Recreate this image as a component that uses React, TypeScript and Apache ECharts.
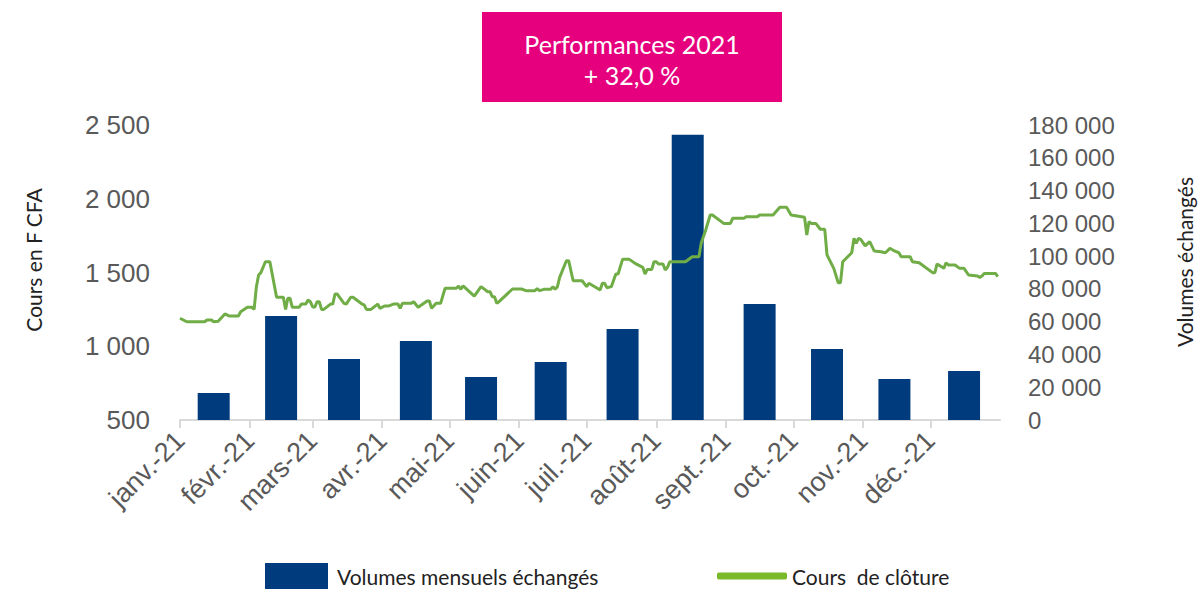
import React, { useEffect, useRef } from "react";
import * as echarts from "echarts";

const monthNames = ["janv.", "févr.", "mars", "avr.", "mai", "juin", "juil.", "août", "sept.", "oct.", "nov.", "déc."];
const axisStart = "2021-01-01";
const axisEnd = "2022-01-01";

const volumeDates = ["2021-01-16", "2021-02-15", "2021-03-15", "2021-04-16", "2021-05-15", "2021-06-15", "2021-07-17", "2021-08-15", "2021-09-16", "2021-10-16", "2021-11-15", "2021-12-16"];
const volumeValues = [16500, 63500, 37200, 48200, 26200, 35400, 55500, 174000, 70800, 43300, 25000, 29900];

const closeDates = [
  "2021-01-01", "2021-01-04", "2021-01-12", "2021-01-13", "2021-01-15", "2021-01-16", "2021-01-18", "2021-01-21", "2021-01-23", "2021-01-27",
  "2021-01-28", "2021-01-31", "2021-02-02", "2021-02-03", "2021-02-04", "2021-02-05", "2021-02-06", "2021-02-08", "2021-02-10", "2021-02-13",
  "2021-02-16", "2021-02-17", "2021-02-18", "2021-02-19", "2021-02-20", "2021-02-23", "2021-02-24", "2021-02-26", "2021-02-27", "2021-02-28",
  "2021-03-01", "2021-03-02", "2021-03-03", "2021-03-04", "2021-03-05", "2021-03-06", "2021-03-09", "2021-03-10", "2021-03-11", "2021-03-12",
  "2021-03-15", "2021-03-16", "2021-03-18", "2021-03-19", "2021-03-23", "2021-03-24", "2021-03-25", "2021-03-27", "2021-03-30", "2021-03-31",
  "2021-04-02", "2021-04-04", "2021-04-06", "2021-04-08", "2021-04-09", "2021-04-10", "2021-04-14", "2021-04-15", "2021-04-17", "2021-04-21",
  "2021-04-22", "2021-04-23", "2021-04-25", "2021-04-27", "2021-04-29", "2021-05-04", "2021-05-05", "2021-05-06", "2021-05-07", "2021-05-12",
  "2021-05-15", "2021-05-18", "2021-05-19", "2021-05-20", "2021-05-21", "2021-05-22", "2021-05-23", "2021-05-29", "2021-06-02", "2021-06-04",
  "2021-06-08", "2021-06-09", "2021-06-10", "2021-06-12", "2021-06-15", "2021-06-16", "2021-06-17", "2021-06-18", "2021-06-19", "2021-06-22",
  "2021-06-23", "2021-06-25", "2021-06-29", "2021-07-01", "2021-07-02", "2021-07-07", "2021-07-08", "2021-07-09", "2021-07-10", "2021-07-12",
  "2021-07-14", "2021-07-15", "2021-07-17", "2021-07-20", "2021-07-23", "2021-07-26", "2021-07-27", "2021-07-28", "2021-07-30", "2021-07-31",
  "2021-08-01", "2021-08-02", "2021-08-04", "2021-08-05", "2021-08-06", "2021-08-07", "2021-08-14", "2021-08-17", "2021-08-20", "2021-08-21",
  "2021-08-23", "2021-08-25", "2021-08-26", "2021-08-31", "2021-09-03", "2021-09-04", "2021-09-09", "2021-09-10", "2021-09-15", "2021-09-16",
  "2021-09-22", "2021-09-25", "2021-09-28", "2021-09-30", "2021-10-06", "2021-10-07", "2021-10-08", "2021-10-09", "2021-10-11", "2021-10-13",
  "2021-10-15", "2021-10-16", "2021-10-19", "2021-10-21", "2021-10-22", "2021-10-23", "2021-10-27", "2021-10-28", "2021-10-29", "2021-10-30",
  "2021-10-31", "2021-11-02", "2021-11-04", "2021-11-06", "2021-11-09", "2021-11-11", "2021-11-13", "2021-11-15", "2021-11-17", "2021-11-18",
  "2021-11-22", "2021-11-23", "2021-11-26", "2021-12-02", "2021-12-03", "2021-12-04", "2021-12-07", "2021-12-08", "2021-12-09", "2021-12-12",
  "2021-12-14", "2021-12-16", "2021-12-18", "2021-12-22", "2021-12-23", "2021-12-24", "2021-12-25", "2021-12-30", "2021-12-31"
];
const closeValues = [
  1190, 1166, 1166, 1178, 1178, 1166, 1170, 1219, 1205, 1205,
  1234, 1264, 1264, 1250, 1404, 1483, 1499, 1573, 1573, 1332,
  1332, 1250, 1325, 1325, 1264, 1264, 1286, 1286, 1314, 1302,
  1268, 1264, 1302, 1302, 1250, 1250, 1286, 1286, 1354, 1354,
  1291, 1286, 1332, 1332, 1286, 1280, 1250, 1250, 1286, 1257,
  1273, 1273, 1286, 1286, 1257, 1291, 1291, 1302, 1264, 1307,
  1307, 1257, 1291, 1291, 1393, 1393, 1408, 1386, 1410, 1340,
  1404, 1370, 1370, 1336, 1336, 1291, 1302, 1388, 1388, 1377,
  1377, 1391, 1377, 1386, 1386, 1404, 1386, 1404, 1467, 1580,
  1580, 1444, 1444, 1404, 1427, 1381, 1427, 1427, 1397, 1404,
  1490, 1490, 1589, 1589, 1558, 1535, 1490, 1521, 1521, 1573,
  1573, 1558, 1558, 1517, 1535, 1573, 1573, 1607, 1607, 1698,
  1788, 1890, 1890, 1833, 1833, 1867, 1867, 1878, 1878, 1890,
  1890, 1942, 1942, 1890, 1874, 1754, 1845, 1833, 1833, 1793,
  1793, 1619, 1528, 1431, 1431, 1573, 1634, 1732, 1698, 1732,
  1725, 1680, 1709, 1646, 1641, 1634, 1664, 1646, 1634, 1607,
  1607, 1573, 1566, 1499, 1499, 1558, 1528, 1566, 1551, 1551,
  1528, 1528, 1483, 1476, 1467, 1476, 1494, 1494, 1472
];

const leftTicks = { min: 500, max: 2500, interval: 500 };
const rightTicks = { min: 0, max: 180000, interval: 20000 };

const titleLines = ["Performances 2021", "+ 32,0 %"];
const barName = "Volumes mensuels échangés";
const lineName = "Cours  de clôture";
const leftAxisName = "Cours en F CFA";
const rightAxisName = "Volumes échangés";

const fmtThousands = (v: number) => String(v).replace(/\B(?=(\d{3})+(?!\d))/g, " ");
const ts = (s: string) => {
  const [y, m, d] = s.split("-").map(Number);
  return new Date(y, m - 1, d).getTime();
};

export default function App() {
  const ref = useRef<HTMLDivElement>(null);
  useEffect(() => {
    if (!ref.current) return;
    const chart = echarts.init(ref.current, null, { renderer: "svg" });
    const axisFont = "'Liberation Sans', Arial, sans-serif";
    const uiFont = "Lato, 'Noto Sans', sans-serif";
    const xMin = ts(axisStart);
    const xMax = ts(axisEnd);
    chart.setOption({
      animation: false,
      backgroundColor: "#ffffff",
      grid: { left: 180, right: 198, top: 125, bottom: 170 },
      legend: [
        {
          data: [barName],
          left: 265,
          top: 563,
          padding: 0,
          icon: "rect",
          itemWidth: 63,
          itemHeight: 26,
          itemGap: 6,
          textStyle: { fontSize: 21, color: "#222222", fontFamily: uiFont, padding: [0, 0, 0, 4], lineHeight: 26 },
        },
        {
          data: [{ name: lineName, itemStyle: { color: "#7AB929" } }],
          left: 717,
          top: 563,
          padding: 0,
          icon: "roundRect",
          itemWidth: 70,
          itemHeight: 7,
          itemGap: 4,
          textStyle: { fontSize: 21, color: "#222222", fontFamily: uiFont, padding: [0, 0, 0, 0], lineHeight: 26 },
        },
      ],
      xAxis: [
        {
          type: "time",
          min: xMin,
          max: xMax,
          splitNumber: 12,
          minInterval: 28 * 86400000,
          maxInterval: 31 * 86400000,
          axisLine: { show: true, lineStyle: { color: "#d9d9d9", width: 2 } },
          axisTick: { show: true, length: 8, lineStyle: { color: "#d9d9d9", width: 2 } },
          splitLine: { show: false },
          axisLabel: {
            rotate: 45,
            fontSize: 27,
            color: "#595959",
            fontFamily: axisFont,
            margin: 16,
            hideOverlap: false,
            formatter: (val: number) => {
              const d = new Date(val);
              if (d.getFullYear() !== 2021) return "";
              return monthNames[d.getMonth()] + "-21";
            },
          },
        },
        {
          type: "value",
          show: false,
          min: xMin,
          max: xMax,
          splitLine: { show: false },
        },
      ],
      yAxis: [
        {
          type: "value",
          ...leftTicks,
          axisLine: { show: false },
          axisTick: { show: false },
          splitLine: { show: false },
          axisLabel: { fontSize: 26, color: "#595959", fontFamily: axisFont, margin: 30, formatter: fmtThousands },
        },
        {
          type: "value",
          position: "right",
          ...rightTicks,
          axisLine: { show: false },
          axisTick: { show: false },
          splitLine: { show: false },
          axisLabel: { fontSize: 24, color: "#595959", fontFamily: axisFont, margin: 28, formatter: fmtThousands },
        },
      ],
      series: [
        {
          name: barName,
          type: "bar",
          xAxisIndex: 1,
          yAxisIndex: 1,
          barWidth: 32,
          itemStyle: { color: "#003C7D" },
          data: volumeDates.map((d, i) => [ts(d), volumeValues[i]]),
          z: 2,
        },
        {
          name: lineName,
          type: "line",
          xAxisIndex: 0,
          yAxisIndex: 0,
          showSymbol: false,
          symbol: "none",
          lineStyle: { color: "#70AD47", width: 3 },
          itemStyle: { color: "#70AD47" },
          data: closeDates.map((d, i) => [ts(d), closeValues[i]]),
          z: 3,
        },
      ],
      graphic: [
        { type: "rect", shape: { x: 482, y: 12, width: 300, height: 90 }, style: { fill: "#E6007E" } },
        {
          type: "text",
          x: 632,
          y: 44,
          style: { text: titleLines[0], fill: "#ffffff", fontSize: 25, fontFamily: uiFont, align: "center", verticalAlign: "middle" },
        },
        {
          type: "text",
          x: 632,
          y: 75,
          style: { text: titleLines[1], fill: "#ffffff", fontSize: 25, fontFamily: uiFont, align: "center", verticalAlign: "middle" },
        },
        {
          type: "text",
          x: 33,
          y: 260,
          rotation: Math.PI / 2,
          style: { text: leftAxisName, fill: "#222222", fontSize: 21, fontFamily: uiFont, align: "center", verticalAlign: "middle" },
        },
        {
          type: "text",
          x: 1184,
          y: 262,
          rotation: Math.PI / 2,
          style: { text: rightAxisName, fill: "#222222", fontSize: 21, fontFamily: uiFont, align: "center", verticalAlign: "middle" },
        },
      ],
    });
    return () => chart.dispose();
  }, []);
  return <div ref={ref} style={{ position: "absolute", left: 0, top: 0, width: 1198, height: 590 }} />;
}
